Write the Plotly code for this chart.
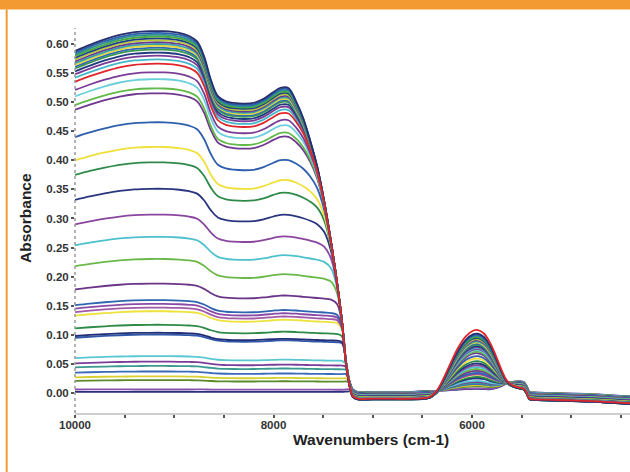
import numpy as np
import plotly.graph_objects as go

# Wavenumber grid (cm-1) shared by all spectra
wavenumbers = [10000, 9850, 9700, 9550, 9400, 9250, 9100, 8950, 8850, 8770,
               8700, 8630, 8560, 8480, 8400, 8300, 8200, 8100, 8000, 7930,
               7850, 7770, 7700, 7630, 7560, 7490, 7420, 7360, 7310, 7270,
               7235, 7200, 7150, 7000, 6800, 6600, 6480, 6420, 6360, 6300,
               6220, 6140, 6060, 5990, 5940, 5880, 5820, 5760, 5700, 5650,
               5590, 5530, 5480, 5450, 5420, 5380, 5200, 5000, 4800, 4600,
               4400]

# Broad band shape relative to absorbance at 10000 cm-1 (strongest samples)
band_shape_high = [1.000, 1.018, 1.034, 1.047, 1.055, 1.058, 1.058, 1.053, 1.044, 1.028,
                   0.985, 0.915, 0.868, 0.853, 0.848, 0.846, 0.848, 0.860, 0.880, 0.892,
                   0.892, 0.885, 0.875, 0.866, 0.858, 0.852, 0.847, 0.843, 0.840, 0.838,
                   0.836, 0.835] + [0.0] * 29
# Same band for the weakest samples (flatter)
band_shape_low = [1.000, 1.018, 1.033, 1.045, 1.053, 1.056, 1.056, 1.052, 1.046, 1.038,
                  1.015, 0.985, 0.962, 0.950, 0.945, 0.943, 0.944, 0.950, 0.958, 0.962,
                  0.962, 0.958, 0.953, 0.948, 0.944, 0.940, 0.937, 0.934, 0.932, 0.930,
                  0.928, 0.927] + [0.0] * 29
# Cut-off edge common to every spectrum (absorbance ceiling)
cutoff_edge = [2.0] * 21 + [0.65, 0.55, 0.47, 0.405, 0.335, 0.26, 0.19, 0.123, 0.055,
                            0.02, 0.004] + [0.0] * 29
# Baseline below the cut-off
baseline = [0.0] * 29 + [-0.001, -0.002, -0.003, -0.003, -0.003, -0.003, -0.003,
                         -0.002, -0.002, -0.002, -0.002, -0.002, -0.002, -0.002,
                         -0.002, -0.002, -0.002, -0.002, -0.002, -0.002, -0.002,
                         -0.002, -0.002, -0.002, -0.003, -0.004, -0.004, -0.005,
                         -0.006, -0.007, -0.009, -0.011]
baseline_weight = [0.0] * 29 + [0.3, 0.6] + [1.0] * 30
# Band near 5950 cm-1, relative to its maximum
peak_shape = [0.0] * 37 + [0.02, 0.10, 0.25, 0.50, 0.74, 0.91, 0.99, 1.00, 0.95, 0.82,
                           0.60, 0.34, 0.15, 0.05, 0.01] + [0.0] * 9
# Shoulder shared by all spectra before the step at 5450 cm-1
shoulder = [0.0] * 47 + [0.003, 0.008, 0.013, 0.016, 0.017, 0.016, 0.010, 0.001] + [0.0] * 6

# Per-spectrum absorbance at 10000 cm-1, peak height near 5950 cm-1 and colour
start_levels = [0.588, 0.585, 0.582, 0.579, 0.576, 0.573, 0.570, 0.567, 0.564, 0.561,
                0.558, 0.553, 0.548, 0.542, 0.535, 0.521, 0.510, 0.495, 0.487, 0.440,
                0.400, 0.375, 0.332, 0.290, 0.254, 0.218, 0.178, 0.151, 0.145, 0.139,
                0.133, 0.111, 0.098, 0.095, 0.060, 0.051, 0.044, 0.035, 0.027, 0.021,
                0.006, 0.002]
peak_heights = [0.112, 0.110, 0.108, 0.106, 0.104, 0.102, 0.100, 0.098, 0.096, 0.094,
                0.092, 0.090, 0.088, 0.086, 0.117, 0.084, 0.082, 0.079, 0.076, 0.070,
                0.065, 0.060, 0.055, 0.051, 0.047, 0.043, 0.039, 0.035, 0.033, 0.032,
                0.031, 0.027, 0.025, 0.024, 0.019, 0.017, 0.015, 0.013, 0.011, 0.009,
                0.005, 0.004]
colors = ["#27306e", "#2b5fae", "#2a8f8f", "#4caa3c", "#1d3f8a", "#b8c83a", "#6a3a90",
          "#35a0a8", "#e4d640", "#2d6bb5", "#3d9a4a", "#223a80", "#7b3c98", "#45b8c8",
          "#e0262a", "#7a3d96", "#6cd0dc", "#62b848", "#6e3890", "#2e5ead", "#f0e03a",
          "#2f8a4a", "#2a3580", "#8a459e", "#4cc0cc", "#6ab84a", "#6a3588", "#2f65b0",
          "#8a4aa8", "#a05aa8", "#eee23c", "#2e8a48", "#232e78", "#3058a8", "#5ac8d2",
          "#7a3e98", "#3a9a90", "#3a6ab8", "#d8d030", "#5a8a2a", "#8a50b0", "#28307a"]

x_ticks = [10000, 9500, 9000, 8500, 8000, 7500, 7000, 6500, 6000, 5500, 5000, 4500]
x_tick_text = ["10000", "", "", "", "8000", "", "", "", "6000", "", "", ""]
y_ticks = [0.00, 0.05, 0.10, 0.15, 0.20, 0.25, 0.30, 0.35, 0.40, 0.45, 0.50, 0.55, 0.60]

wn = np.array(wavenumbers, dtype=float)
hi = np.array(band_shape_high)
lo = np.array(band_shape_low)
edge = np.array(cutoff_edge)
base = np.array(baseline)
bw = np.array(baseline_weight)
pk = np.array(peak_shape)
sh = np.array(shoulder)
top_level = max(start_levels)


def spectrum(level, peak):
    t = level / top_level
    rel = lo + t * (hi - lo)
    own = level * rel
    band = np.zeros_like(own)
    ok = (own > 0) & (edge > 0)
    band[ok] = (own[ok] ** -6 + edge[ok] ** -6) ** (-1 / 6)
    offset = 0.005 - 0.013 * t
    return band + base + offset * bw + peak * pk + sh


fig = go.Figure()
order = sorted(range(len(start_levels)), key=lambda i: start_levels[i])
order.remove(14)
order.append(14)  # red spectrum drawn on top
for i in order:
    fig.add_trace(go.Scatter(
        x=wavenumbers, y=spectrum(start_levels[i], peak_heights[i]),
        mode="lines", line=dict(color=colors[i], width=1.8, shape="spline"),
        hoverinfo="skip", showlegend=False))

tick_font = dict(family="Liberation Sans, Arial, sans-serif", size=11.5,
                 color="#333333", weight="bold")
title_font = dict(family="Liberation Sans, Arial, sans-serif", size=15.5,
                  color="#222222", weight="bold")

fig.update_layout(
    width=630, height=472,
    margin=dict(l=75, r=0, t=28, b=59),
    paper_bgcolor="white", plot_bgcolor="white",
    showlegend=False,
    xaxis=dict(range=[10000, 4408], tickvals=x_ticks, ticktext=x_tick_text,
               showgrid=False, zeroline=False, showline=True,
               linecolor="#cfcfcf", linewidth=1.5,
               ticks="outside", ticklen=3, tickwidth=2, tickcolor="#555555",
               ticklabelstandoff=-3, tickfont=tick_font),
    yaxis=dict(range=[-0.0344, 0.6275], tickvals=y_ticks,
               ticktext=[f"{v:.2f}" for v in y_ticks],
               showgrid=False, zeroline=False, showline=False,
               ticks="outside", ticklen=3, tickwidth=1.5, tickcolor="#555555",
               tickfont=tick_font),
    shapes=[
        # dotted y axis line
        dict(type="line", xref="paper", yref="paper", x0=0, x1=0, y0=0, y1=1,
             line=dict(color="#999999", width=1.5, dash="dot")),
        # orange header bar and left rule
        dict(type="rect", xref="paper", yref="paper", x0=-0.2, x1=1.1,
             y0=1.048, y1=1.09, line=dict(width=0), fillcolor="#f49a33"),
        dict(type="line", xref="paper", yref="paper", x0=-0.1231, x1=-0.1231,
             y0=-0.17, y1=1.048, line=dict(color="#f49a33", width=2)),
    ],
    annotations=[
        dict(text="Absorbance", xref="paper", yref="paper", x=-0.0883, y=0.5065,
             textangle=-90, showarrow=False, font=title_font,
             xanchor="center", yanchor="middle"),
        dict(text="Wavenumbers (cm-1)", xref="paper", yref="paper", x=0.5333, y=-0.0701,
             showarrow=False, font=title_font, xanchor="center", yanchor="middle"),
    ],
)

fig.write_html("out.html")
